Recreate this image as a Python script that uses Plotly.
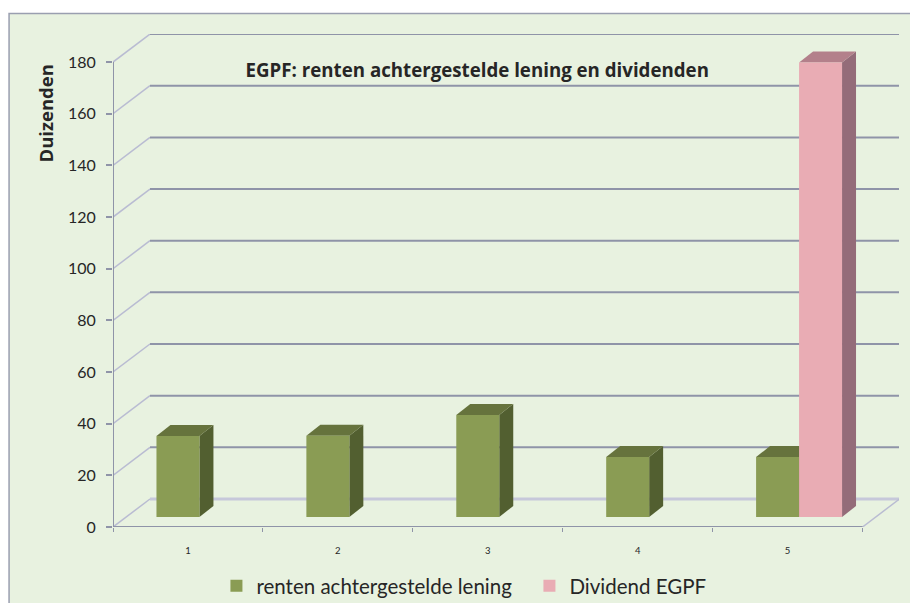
import plotly.graph_objects as go

categories = [1, 2, 3, 4, 5]
renten = [31.4, 31.5, 39.5, 23.2, 23.2]
dividend = [0, 0, 0, 0, 176]
y_ticks = [0, 20, 40, 60, 80, 100, 120, 140, 160, 180]
series_names = ["renten achtergestelde lening", "Dividend EGPF"]
title_text = "EGPF: renten achtergestelde lening en dividenden"
y_title = "Duizenden"

W, H = 910, 603
L, R, T, B = 112.5, 11, 34, 76
PX_X = 150.0
PX_Y = 2.583
XMIN = 0.5
XMAX = XMIN + (W - L - R) / PX_X
YMAX = (H - T - B) / PX_Y
WALL_DX, WALL_DY = 37 / PX_X, 28 / PX_Y
SHIFT_X, SHIFT_Y = 11.5 / PX_X, 10 / PX_Y
DEPTH_X, DEPTH_Y = 14 / PX_X, 11 / PX_Y
BAR_W = 43 / PX_X
FONT = "Lato, Carlito, Calibri, sans-serif"
BOLD_FONT = "'Open Sans', Lato, sans-serif"
GRID = "#8f94a8"
DIAG = "#b9bcd2"
AXIS = "#8f94a8"
TXT = "#262626"
G_FRONT, G_TOP, G_SIDE = "#8a9c54", "#66733d", "#525f30"
P_FRONT, P_TOP, P_SIDE = "#e9acb4", "#b3808b", "#946c79"


def paper_x(px):
    return (px - L) / (W - L - R)


def paper_y(px):
    return 1 - (px - T) / (H - T - B)


def poly(pts, color):
    path = "M" + " L".join(f"{x},{y}" for x, y in pts) + " Z"
    return dict(type="path", path=path, xref="x", yref="y", fillcolor=color,
                line=dict(width=0), layer="below")


def seg(x0, y0, x1, y1, color, width):
    return dict(type="line", x0=x0, y0=y0, x1=x1, y1=y1, xref="x", yref="y",
                line=dict(color=color, width=width), layer="below")


shapes = [dict(type="rect", xref="paper", yref="paper",
               x0=paper_x(8.5), x1=paper_x(930), y0=paper_y(13.5), y1=paper_y(640),
               fillcolor="#e8f2e0", line=dict(color="#9a9fb0", width=1.5), layer="below")]

x_end = categories[-1] + 0.5
for v in y_ticks:
    c = "#c6c8da" if v == 0 else GRID
    w = 3 if v == 0 else 2
    shapes.append(seg(XMIN, v, XMIN + WALL_DX, v + WALL_DY, DIAG, 1.5))
    shapes.append(seg(XMIN + WALL_DX, v + WALL_DY, x_end + WALL_DX, v + WALL_DY, c, w))
shapes.append(seg(x_end, 0, x_end + WALL_DX, WALL_DY, DIAG, 1.5))
shapes.append(seg(XMIN, 0, XMIN, y_ticks[-1], AXIS, 2))
shapes.append(seg(XMIN, 0, x_end, 0, AXIS, 2))


def faces(cat, val, left, top, side):
    out = []
    x0 = cat + left + SHIFT_X
    x1 = x0 + BAR_W
    y0 = SHIFT_Y
    y1 = y0 + val
    out.append(poly([(x1, y0), (x1 + DEPTH_X, y0 + DEPTH_Y), (x1 + DEPTH_X, y1 + DEPTH_Y), (x1, y1)], side))
    out.append(poly([(x0, y1), (x0 + DEPTH_X, y1 + DEPTH_Y), (x1 + DEPTH_X, y1 + DEPTH_Y), (x1, y1)], top))
    return out


for c, v in zip(categories, renten):
    if v > 0:
        shapes += faces(c, v, -BAR_W, G_TOP, G_SIDE)
for c, v in zip(categories, dividend):
    if v > 0:
        shapes += faces(c, v, 0, P_TOP, P_SIDE)

fig = go.Figure()
fig.add_bar(x=categories, y=renten, base=SHIFT_Y, width=BAR_W, offset=-BAR_W + SHIFT_X,
            name=series_names[0], marker=dict(color=G_FRONT, line=dict(width=0)))
fig.add_bar(x=categories, y=dividend, base=SHIFT_Y, width=BAR_W, offset=SHIFT_X,
            name=series_names[1], marker=dict(color=P_FRONT, line=dict(width=0)))

fig.update_layout(
    width=W, height=H, autosize=False,
    margin=dict(l=L, r=R, t=T, b=B, pad=0, autoexpand=False),
    paper_bgcolor="white", plot_bgcolor="rgba(0,0,0,0)",
    barmode="overlay", shapes=shapes,
    font=dict(family=FONT, color=TXT),
    title=dict(text=f"<b>{title_text}</b>", xref="paper", x=paper_x(477), xanchor="center",
               yref="container", y=1 - 70 / H, yanchor="middle", font=dict(size=18.7, family=BOLD_FONT, color=TXT)),
    xaxis=dict(range=[XMIN, XMAX], tickmode="array", tickvals=categories, ticktext=[str(c) for c in categories],
               showgrid=False, zeroline=False, showline=False, ticks="outside", ticklen=15,
               tickcolor="rgba(0,0,0,0)", tickfont=dict(size=9.5, family=FONT, color=TXT),
               minor=dict(tickmode="array", tickvals=[c - 0.5 for c in categories] + [x_end],
                          ticks="outside", ticklen=4, tickcolor=AXIS, tickwidth=1, showgrid=False)),
    yaxis=dict(range=[0, YMAX], tickmode="array", tickvals=y_ticks, showgrid=False, zeroline=False,
               showline=False, ticks="outside", ticklen=6, tickcolor=AXIS, tickwidth=1.5,
               ticklabelstandoff=7, tickfont=dict(size=16, family=FONT, color=TXT)),
    legend=dict(orientation="h", x=paper_x(216), y=paper_y(586), xanchor="left", yanchor="middle",
                font=dict(size=20.5, family=FONT, color=TXT), bgcolor="rgba(0,0,0,0)", traceorder="normal",
                entrywidth=268, entrywidthmode="pixels"),
    annotations=[dict(text=f"<b>{y_title}</b>", xref="paper", yref="paper", x=paper_x(44), y=paper_y(114),
                      xanchor="center", yanchor="middle", textangle=-90, showarrow=False,
                      font=dict(size=18.5, family=BOLD_FONT, color=TXT))],
)
fig.write_html("out.html", config=dict(displayModeBar=False),
               post_script="document.body.style.margin='0';")
